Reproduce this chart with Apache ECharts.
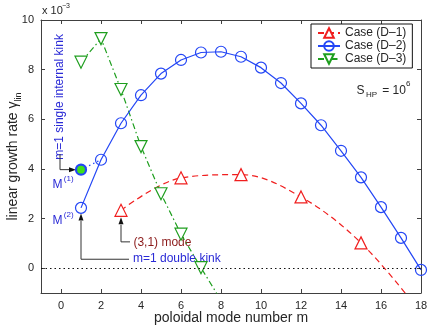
<!DOCTYPE html>
<html><head><meta charset="utf-8">
<script src="https://cdn.jsdelivr.net/npm/echarts@6/dist/echarts.min.js"></script>
<style>html,body{margin:0;padding:0;background:#fff}#c{width:436px;height:327px}</style>
</head><body><div id="c"></div>
<script>
// Data (growth rate in units of 1e-3)
const mD1 = [3, 6, 9, 12, 15, 18];
const gD1 = [2.33, 3.64, 3.77, 2.87, 1.02, -1.8];
const mD2 = [1, 2, 3, 4, 5, 6, 7, 8, 9, 10, 11, 12, 13, 14, 15, 16, 17, 18];
const gD2 = [2.43, 4.37, 5.84, 6.97, 7.84, 8.39, 8.69, 8.72, 8.52, 8.08, 7.46, 6.64, 5.76, 4.73, 3.66, 2.46, 1.22, -0.07];
const mD3 = [1, 2, 3, 4, 5, 6, 7, 8];
const gD3 = [8.3, 9.25, 7.2, 4.9, 3.0, 1.37, 0.02, -1.3];
const mM1 = [1, 2];
const gM1 = [3.97, 4.37];
const xTicks = [0, 2, 4, 6, 8, 10, 12, 14, 16, 18];
const yTicks = [0, 2, 4, 6, 8, 10];
const seriesNames = ['Case (D\u20131)', 'Case (D\u20132)', 'Case (D\u20133)'];

const BLUE = '#2346f5', RED = '#f01e1e', GREEN = '#1e9e1e', AX = '#404040', TXT = '#262626';
const FONT = 'Liberation Sans, Arial, sans-serif';
const zip = (a, b) => a.map((v, i) => [v, b[i]]);

const chart = echarts.init(document.getElementById('c'), null, {renderer: 'canvas'});
const axBase = (pos, isX, showLabel) => ({
  type: 'value', position: pos, min: -1, max: isX ? 18 : 10,
  nameMoveOverlap: false,
  axisLine: {show: true, onZero: false, lineStyle: {color: AX, width: 1}},
  axisTick: {show: true, inside: true, length: 4, lineStyle: {color: AX}, customValues: isX ? xTicks : yTicks},
  axisLabel: {show: showLabel, color: TXT, fontSize: 11, fontFamily: FONT, margin: 7, customValues: isX ? xTicks : yTicks},
  splitLine: {show: false}
});
const xA = axBase('bottom', true, true);
xA.name = 'poloidal mode number m';
xA.nameLocation = 'middle';
xA.nameGap = 18;
xA.nameTextStyle = {color: TXT, fontSize: 14, fontFamily: FONT};
const yA = axBase('left', false, true);
yA.name = '{b|linear growth rate }{b|\u03b3}{s|lin}';
yA.nameLocation = 'middle';
yA.nameGap = 18;
yA.nameTextStyle = {color: TXT, fontFamily: FONT, rich: {
  b: {fontSize: 14, lineHeight: 20, verticalAlign: 'middle', color: TXT, fontFamily: FONT},
  s: {fontSize: 9, lineHeight: 10, verticalAlign: 'bottom', color: TXT, fontFamily: FONT}
}};

chart.setOption({
  animation: false,
  grid: {left: 41, right: 15, top: 20, bottom: 34, outerBoundsMode: 'none', containLabel: false},
  xAxis: [xA, axBase('top', true, false)],
  yAxis: [yA, axBase('right', false, false)],
  legend: {
    data: seriesNames, orient: 'vertical', left: 311, top: 24,
    backgroundColor: '#fff', borderColor: '#111', borderWidth: 1, borderRadius: 0,
    padding: [3, 6, 3, 6], itemGap: 1, itemWidth: 22, itemHeight: 12,
    textStyle: {fontSize: 12, color: TXT, fontFamily: FONT}
  },
  series: [
    {name: seriesNames[0], type: 'line', data: zip(mD1, gD1), smooth: 0.35,
     symbol: 'triangle', symbolSize: 12, color: RED,
     itemStyle: {color: '#fff', borderColor: RED, borderWidth: 1.2},
     lineStyle: {color: RED, width: 1.2, type: [6, 4]}, z: 3},
    {name: seriesNames[1], type: 'line', data: zip(mD2, gD2), clip: false,
     symbol: 'circle', symbolSize: 11, color: BLUE,
     itemStyle: {color: 'rgba(255,255,255,0)', borderColor: BLUE, borderWidth: 1.2},
     lineStyle: {color: BLUE, width: 1.2}, z: 4,
     markLine: {silent: true, symbol: 'none', label: {show: false},
       lineStyle: {color: '#111', type: [1.5, 3], width: 1.2}, data: [{yAxis: 0}]}},
    {name: seriesNames[2], type: 'line', data: zip(mD3, gD3),
     symbol: 'triangle', symbolRotate: 180, symbolSize: 12, color: GREEN,
     itemStyle: {color: '#fff', borderColor: GREEN, borderWidth: 1.2},
     lineStyle: {color: GREEN, width: 1.2, type: [6, 3, 1.5, 3]}, z: 3},
    {name: 'M1', type: 'line', data: zip(mM1, gM1),
     symbol: (v, p) => p.dataIndex === 0 ? 'circle' : 'none', symbolSize: 10,
     itemStyle: {color: '#3fe01a', borderColor: BLUE, borderWidth: 2.2},
     lineStyle: {color: BLUE, width: 1.2, type: [1.5, 3]}, z: 5}
  ]
});

function px(x, y) { return chart.convertToPixel({gridIndex: 0}, [x, y]); }
const g = [];
function txt(x, y, text, size, color, align, vAlign, rot) {
  const p = px(x, y);
  g.push({type: 'text', x: p[0], y: p[1], rotation: rot || 0, silent: true,
    style: {text: text, fontSize: size, fill: color, fontFamily: FONT, align: align || 'left', verticalAlign: vAlign || 'middle'}});
}
function poly(pts) {
  g.push({type: 'polyline', silent: true, shape: {points: pts.map(q => px(q[0], q[1]))},
    style: {stroke: '#333', lineWidth: 1, fill: null}});
}
function arrow(x, y, dir) { // tip at data point; dir 'up' or 'right'
  const p = px(x, y);
  const pts = dir === 'up' ? [[p[0], p[1]], [p[0] - 2.5, p[1] + 7], [p[0] + 2.5, p[1] + 7]]
                           : [[p[0], p[1]], [p[0] - 7, p[1] - 2.5], [p[0] - 7, p[1] + 2.5]];
  g.push({type: 'polygon', silent: true, shape: {points: pts}, style: {fill: '#111'}});
}
// m=1 single internal kink
txt(-0.05, 6.9, 'm=1 single internal kink', 12, '#2a2ad6', 'center', 'middle', Math.PI / 2);
poly([[-0.05, 4.6], [-0.05, 3.97], [0.45, 3.97]]);
arrow(0.75, 3.97, 'right');
// M labels
txt(-0.42, 3.38, 'M', 12, '#2a2ad6', 'left', 'middle');
txt(0.14, 3.62, '(1)', 8, '#2a2ad6', 'left', 'middle');
txt(-0.42, 1.93, 'M', 12, '#2a2ad6', 'left', 'middle');
txt(0.14, 2.17, '(2)', 8, '#2a2ad6', 'left', 'middle');
// double kink
poly([[3.4, 0.36], [1, 0.36], [1, 1.9]]);
arrow(1, 2.2, 'up');
txt(3.6, 0.38, 'm=1 double kink', 12, '#2a2ad6', 'left', 'middle');
// (3,1) mode
poly([[3.45, 1.06], [3, 1.06], [3, 1.75]]);
arrow(3, 2.05, 'up');
txt(3.62, 1.02, '(3,1) mode', 12, '#8b1a1a', 'left', 'middle');
// S_HP = 10^6
txt(14.78, 7.16, 'S', 12, TXT, 'left', 'middle');
txt(15.25, 6.98, 'HP', 8, TXT, 'left', 'middle');
txt(16.06, 7.16, '= 10', 12, TXT, 'left', 'middle');
txt(17.25, 7.42, '6', 8, TXT, 'left', 'middle');
// x 10^-3
txt(-0.95, 10.35, 'x 10', 11, TXT, 'left', 'middle');
txt(0.05, 10.58, '\u22123', 7, TXT, 'left', 'middle');
chart.setOption({graphic: g});
</script></body></html>
